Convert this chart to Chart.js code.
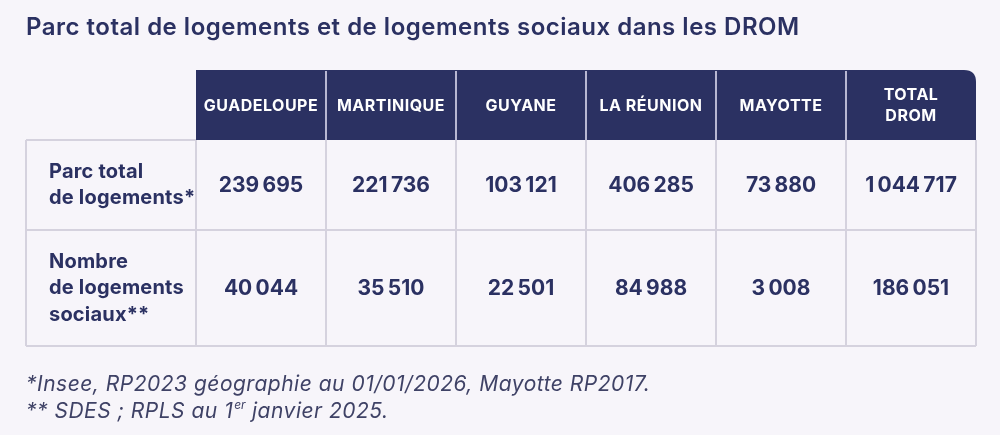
<!DOCTYPE html>
<html lang="fr">
<head>
<meta charset="utf-8">
<script src="https://cdn.jsdelivr.net/npm/chart.js@4/dist/chart.umd.min.js"></script>
<style>
  html, body { margin: 0; padding: 0; background: #f7f5fa; }
  #wrap { width: 1000px; height: 435px; }
</style>
</head>
<body>
<div id="wrap"><canvas id="c" width="1000" height="435"></canvas></div>
<script>
// ---- Data ----
const titleText = 'Parc total de logements et de logements sociaux dans les DROM';
const columnLabels = ['GUADELOUPE', 'MARTINIQUE', 'GUYANE', 'LA RÉUNION', 'MAYOTTE', ['TOTAL', 'DROM']];
const rowLabels = [
  ['Parc total', 'de logements*'],
  ['Nombre', 'de logements', 'sociaux**']
];
const totalHousing = [239695, 221736, 103121, 406285, 73880, 1044717];
const socialHousing = [40044, 35510, 22501, 84988, 3008, 186051];
const footnoteLine1 = '*Insee, RP2023 géographie au 01/01/2026, Mayotte RP2017.';
const footnoteLine2 = ['** SDES ; RPLS au 1', 'er', ' janvier 2025.'];

// ---- Style ----
const NAVY = '#2b3162';
const BG = '#f7f5fa';
const BORDER = '#d5d2de';
const HEADER_SEP = '#b8b7d2';
const FONT = 'Inter, "Noto Sans", sans-serif';

function fmt(n) {
  return String(n).replace(/\B(?=(\d{3})+(?!\d))/g, '\u202F');
}

const rows = [totalHousing, socialHousing];
const datasets = rows.map((vals, r) => ({
  label: rowLabels[r].join(' '),
  data: vals.map((v, i) => ({ col: i, row: r, value: v })),
  showLine: false,
  pointRadius: 0,
  pointHoverRadius: 0
}));

// row boundaries expressed on the y scale (row index units)
const ROW_EDGES = [-0.437, 0.437, 1.563];

function setSpacing(ctx, px) {
  if ('letterSpacing' in ctx) ctx.letterSpacing = px + 'px';
}

const tablePlugin = {
  id: 'tablePlugin',
  beforeDraw(chart) {
    const ctx = chart.ctx;
    ctx.save();
    ctx.fillStyle = BG;
    ctx.fillRect(0, 0, chart.width, chart.height);
    ctx.restore();
    // letter spacing used by the title box drawn next
    setSpacing(ctx, 0.5);
  },
  afterDraw(chart) {
    const ctx = chart.ctx;
    const xs = chart.scales.x, ys = chart.scales.y;
    const n = columnLabels.length;
    const colW = xs.width / n;
    const edges = [];
    for (let i = 0; i <= n; i++) edges.push(xs.getPixelForValue(0) - colW / 2 + i * colW);
    const tableLeft = ys.left;
    const rowY = ROW_EDGES.map(v => ys.getPixelForValue(v));

    ctx.save();
    // header band
    const hTop = xs.top, hBot = xs.bottom;
    const rad = 12;
    ctx.fillStyle = NAVY;
    ctx.beginPath();
    ctx.moveTo(edges[0], hBot);
    ctx.lineTo(edges[0], hTop);
    ctx.lineTo(edges[n] - rad, hTop);
    ctx.quadraticCurveTo(edges[n], hTop, edges[n], hTop + rad);
    ctx.lineTo(edges[n], hBot);
    ctx.closePath();
    ctx.fill();
    // header separators
    ctx.strokeStyle = HEADER_SEP;
    ctx.lineWidth = 2;
    for (let i = 1; i < n; i++) {
      ctx.beginPath();
      ctx.moveTo(edges[i], hTop + 1);
      ctx.lineTo(edges[i], hBot);
      ctx.stroke();
    }
    // header text
    ctx.fillStyle = '#ffffff';
    ctx.font = '700 16px ' + FONT;
    setSpacing(ctx, 0.5);
    ctx.textAlign = 'center';
    ctx.textBaseline = 'middle';
    const hMid = (hTop + hBot) / 2;
    const hLine = 21;
    columnLabels.forEach((lab, i) => {
      const lines = Array.isArray(lab) ? lab : [lab];
      const cx = xs.getPixelForValue(i);
      lines.forEach((t, k) => {
        ctx.fillText(t, cx, hMid + 1 + (k - (lines.length - 1) / 2) * hLine);
      });
    });

    // body grid
    ctx.strokeStyle = BORDER;
    ctx.lineWidth = 2;
    ctx.beginPath();
    ctx.moveTo(tableLeft, rowY[0]);
    ctx.lineTo(edges[0], rowY[0]);
    for (let k = 1; k < rowY.length; k++) {
      ctx.moveTo(tableLeft, rowY[k]);
      ctx.lineTo(edges[n], rowY[k]);
    }
    ctx.moveTo(tableLeft, rowY[0]);
    ctx.lineTo(tableLeft, rowY[rowY.length - 1]);
    for (let i = 0; i <= n; i++) {
      ctx.moveTo(edges[i], rowY[0]);
      ctx.lineTo(edges[i], rowY[rowY.length - 1]);
    }
    ctx.stroke();

    // row labels
    ctx.fillStyle = NAVY;
    ctx.font = '700 20px ' + FONT;
    setSpacing(ctx, 0.2);
    ctx.textAlign = 'left';
    ctx.textBaseline = 'middle';
    const rLine = 26.5;
    rowLabels.forEach((lines, r) => {
      const cy = ys.getPixelForValue(r);
      lines.forEach((t, k) => {
        ctx.fillText(t, tableLeft + 23, cy + (k - (lines.length - 1) / 2) * rLine);
      });
    });

    // values
    ctx.font = '700 21px ' + FONT;
    setSpacing(ctx, 0.8);
    ctx.textAlign = 'center';
    chart.data.datasets.forEach((ds, d) => {
      const meta = chart.getDatasetMeta(d);
      meta.data.forEach((pt, i) => {
        ctx.fillText(fmt(ds.data[i].value), pt.x, pt.y + 1);
      });
    });

    // footnotes
    ctx.fillStyle = '#3f4266';
    ctx.textAlign = 'left';
    ctx.textBaseline = 'alphabetic';
    setSpacing(ctx, 0.5);
    ctx.font = 'italic 400 21px ' + FONT;
    ctx.fillText(footnoteLine1, tableLeft, 391);
    let x = tableLeft;
    ctx.fillText(footnoteLine2[0], x, 418);
    x += ctx.measureText(footnoteLine2[0]).width + 1;
    ctx.font = 'italic 400 12px ' + FONT;
    setSpacing(ctx, 0);
    ctx.fillText(footnoteLine2[1], x, 409);
    x += ctx.measureText(footnoteLine2[1]).width;
    ctx.font = 'italic 400 21px ' + FONT;
    setSpacing(ctx, 0.5);
    ctx.fillText(footnoteLine2[2], x, 418);
    ctx.restore();
    setSpacing(ctx, 0);
  }
};

new Chart(document.getElementById('c'), {
  type: 'line',
  data: { labels: columnLabels, datasets },
  options: {
    responsive: false,
    animation: false,
    devicePixelRatio: 1,
    parsing: { xAxisKey: 'col', yAxisKey: 'row' },
    events: [],
    layout: { padding: { left: 26, right: 24, top: 0, bottom: 89 } },
    plugins: {
      legend: { display: false },
      tooltip: { enabled: false },
      title: {
        display: true,
        text: titleText,
        align: 'start',
        color: NAVY,
        font: { family: FONT, size: 24, weight: '600', lineHeight: 1 },
        padding: { top: 16, bottom: 30 }
      }
    },
    scales: {
      x: {
        type: 'category',
        position: 'top',
        offset: true,
        grid: { display: false },
        border: { display: false },
        ticks: { display: false },
        afterFit(s) { s.height = 70; }
      },
      y: {
        type: 'linear',
        reverse: true,
        min: ROW_EDGES[0],
        max: ROW_EDGES[2],
        grid: { display: false },
        border: { display: false },
        ticks: { display: false },
        afterFit(s) { s.width = 170; }
      }
    }
  },
  plugins: [tablePlugin]
});
</script>
</body>
</html>
